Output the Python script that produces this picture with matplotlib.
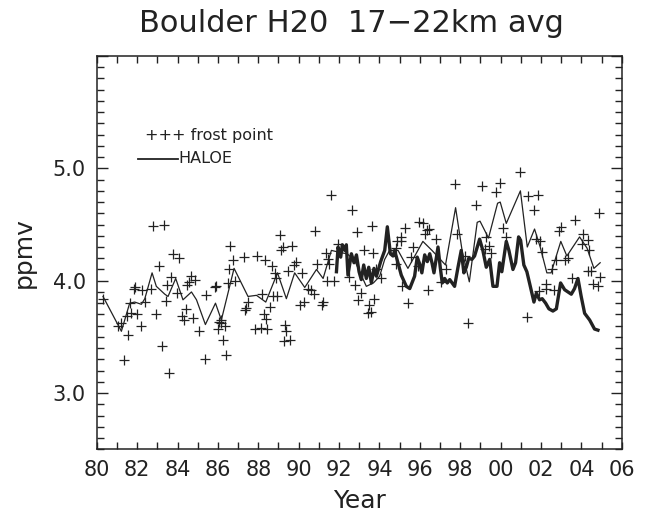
import matplotlib
matplotlib.use("Agg")
import matplotlib.pyplot as plt
from matplotlib.ticker import MultipleLocator, FuncFormatter

# ---- frost point balloon measurements (year since 1900, ppmv) ----
fp_year = [80.31, 81.05, 81.22, 81.35, 81.55, 81.50, 81.63, 81.72, 81.85, 81.88,
           82.00, 82.21, 82.26, 82.41, 82.67, 82.79, 83.33, 82.92, 83.07, 83.23,
           83.45, 83.50, 83.56, 83.70, 83.78, 84.06, 83.95, 84.24, 84.32, 84.44,
           84.49, 84.57, 84.69, 84.89, 84.77, 85.05,
           85.38, 85.43, 85.84, 85.91, 85.98, 86.05, 86.14, 86.17, 86.34, 86.25,
           86.42, 86.50, 86.55, 86.58, 86.75, 86.83, 87.28, 87.33, 87.41, 87.49,
           87.82, 87.94, 88.18, 88.15, 88.32, 88.28, 88.40, 88.42, 88.56, 88.68,
           88.73, 88.95, 88.81, 88.90, 89.06, 89.22, 89.14, 89.67, 89.31, 89.39,
           89.27, 89.59, 89.47, 89.77, 89.89, 90.05,
           90.16, 90.26, 90.46, 90.63, 90.74, 90.79, 90.91, 91.15, 91.22, 91.34,
           91.45, 91.49, 91.42, 91.58, 91.75, 91.95, 92.49, 92.64, 92.81, 92.89,
           92.94, 93.10, 93.23, 93.48, 93.43, 93.60, 93.65, 93.68, 93.73, 93.81,
           94.06, 94.84, 94.89, 94.80,
           95.05, 95.08, 95.28, 95.11, 95.41, 95.54, 95.66, 95.94, 96.15, 96.27,
           96.35, 96.45, 96.40, 95.91, 96.82, 97.03, 97.31, 97.76, 97.86, 98.22,
           98.40, 98.80, 99.07, 99.29, 99.42, 99.54, 99.21, 99.75, 99.99,
           100.98, 101.35, 101.85, 101.63, 100.11, 100.25, 101.32, 101.73, 101.96, 102.06,
           101.90, 102.26, 102.23, 102.64, 102.54, 102.89, 102.97, 102.76, 103.17, 103.33,
           103.55, 103.70, 104.04, 104.10, 104.32, 104.37, 104.32, 104.46, 104.57, 104.82,
           104.87, 104.94]
fp_val = [3.84, 3.60, 3.62, 3.29, 3.52, 3.69, 3.80, 3.71, 3.93, 3.94,
          3.70, 3.60, 3.92, 3.81, 3.93, 4.49, 4.50, 3.70, 4.13, 3.42,
          3.82, 3.96, 3.18, 4.03, 4.24, 4.20, 3.89, 3.69, 3.65, 3.75,
          3.96, 3.99, 4.04, 4.01, 3.67, 3.55,
          3.30, 3.87, 3.94, 3.95, 3.57, 3.63, 3.65, 3.62, 3.60, 3.47,
          3.34, 3.98, 4.10, 4.31, 4.18, 4.00, 4.21, 3.74, 3.76, 3.81,
          3.57, 4.22, 3.88, 3.58, 4.18, 3.70, 3.66, 3.57, 3.77, 4.13,
          3.86, 3.86, 4.07, 4.02, 4.41, 4.30, 4.27, 4.31, 3.61, 3.55,
          3.46, 3.47, 4.09, 4.14, 4.17, 3.78,
          4.07, 3.81, 3.93, 3.92, 3.88, 4.44, 4.15, 3.78, 3.81, 4.25,
          4.19, 4.15, 4.00, 4.76, 4.00, 4.33, 4.03, 4.63, 3.96, 4.43,
          3.83, 3.89, 4.27, 3.78, 3.71, 3.72, 4.49, 4.25, 3.84, 4.10,
          4.02, 4.15, 4.35, 4.29,
          4.35, 4.39, 4.47, 3.95, 3.80, 4.21, 4.30, 4.52, 4.51, 4.42,
          4.45, 4.46, 3.92, 4.13, 4.37, 3.99, 4.10, 4.86, 4.42, 4.22,
          3.62, 4.67, 4.84, 4.39, 4.31, 4.25, 4.28, 4.79, 4.87,
          4.97, 4.75, 4.76, 4.63, 4.47, 4.39, 3.68, 4.37, 4.35, 4.26,
          3.91, 3.97, 3.93, 3.92, 4.10, 4.44, 4.48, 4.18, 4.18, 4.20,
          4.02, 4.54, 4.33, 4.42, 4.36, 4.27, 4.09, 4.09, 3.97, 3.95,
          4.60, 4.03]

# ---- smoothed frost point curve (thin line) ----
fs_year = [80.31, 81.22, 81.63, 81.88, 82.21, 82.38, 82.74, 82.95, 83.37, 83.53,
           83.91, 84.27, 84.69, 84.94, 85.38, 85.88, 86.17, 86.80, 87.49, 87.91,
           88.37, 88.95, 89.39, 89.80, 90.30, 90.88, 91.21, 91.62, 92.08, 92.40,
           92.77, 93.35, 93.70, 94.01, 94.26, 94.50, 94.92, 95.41, 96.15, 96.60,
           97.27, 97.77, 98.10, 98.45, 98.84, 98.98, 99.40, 99.85, 99.98, 100.28,
           100.98, 101.32, 101.68, 101.96, 102.29, 102.50, 102.98, 103.28, 103.91, 104.28,
           104.62, 104.93]
fs_val = [3.86, 3.55, 3.80, 3.81, 3.79, 3.84, 4.07, 3.95, 3.88, 3.86,
          4.02, 3.83, 3.90, 3.83, 3.61, 3.80, 3.65, 4.11, 3.86, 3.87,
          3.81, 4.07, 3.84, 4.07, 3.94, 4.10, 4.02, 4.27, 4.25, 4.24,
          4.18, 3.95, 3.98, 4.04, 4.19, 4.27, 4.27, 4.11, 4.35, 4.27,
          4.14, 4.65, 4.26, 3.99, 4.52, 4.53, 4.38, 4.69, 4.70, 4.51,
          4.80, 4.30, 4.46, 4.30, 4.07, 4.07, 4.35, 4.22, 4.39, 4.29,
          4.11, 4.16]

# ---- HALOE (thick line) ----
ha_year = [91.87, 91.95, 92.08, 92.16, 92.28, 92.36, 92.44, 92.61, 92.74, 92.86,
           92.99, 93.10, 93.22, 93.35, 93.47, 93.60, 93.73, 93.85, 94.06, 94.26,
           94.39, 94.54, 94.67, 94.75, 95.08, 95.33, 95.50, 95.74, 95.87, 95.99,
           96.10, 96.24, 96.37, 96.49, 96.60, 96.70, 96.90, 97.01, 97.11, 97.23,
           97.36, 97.48, 97.72, 97.89, 98.05, 98.18, 98.30, 98.42, 98.58, 98.71,
           98.96, 99.12, 99.29, 99.46, 99.62, 99.82, 99.95, 100.06, 100.28, 100.41,
           100.61, 100.74, 100.89, 100.99, 101.15, 101.30, 101.47, 101.65, 101.77, 101.93,
           102.06, 102.23, 102.39, 102.59, 102.76, 102.97, 103.17, 103.50, 103.66, 103.83,
           103.99, 104.16, 104.41, 104.65, 104.82]
ha_val = [4.08, 4.30, 4.21, 4.32, 4.27, 4.32, 4.05, 4.24, 4.16, 4.23,
          4.08, 4.01, 4.14, 4.02, 4.12, 3.98, 4.11, 4.04, 4.17, 4.27,
          4.48, 4.24, 4.22, 4.27, 4.05, 3.95, 3.93, 4.04, 4.21, 4.15,
          4.07, 4.23, 4.17, 4.24, 4.16, 4.07, 4.30, 4.12, 3.98, 4.02,
          3.98, 4.01, 3.95, 4.12, 4.27, 4.07, 4.12, 4.20, 4.19, 4.22,
          4.37, 4.27, 4.12, 4.19, 3.95, 3.95, 4.16, 4.08, 4.35, 4.27,
          4.10, 4.16, 4.39, 4.36, 4.14, 4.08, 3.95, 3.81, 3.89, 3.83,
          3.84, 3.80, 3.75, 3.73, 3.75, 3.98, 3.92, 3.88, 3.93, 4.02,
          3.86, 3.71, 3.65, 3.57, 3.56]

INK = "#222222"
plt.rcParams["font.family"] = ["DejaVu Sans"]

fig = plt.figure(figsize=(6.45, 5.14), dpi=100)
ax = fig.add_axes([0.150, 0.126, 0.814, 0.765])

ax.plot(fp_year, fp_val, linestyle="none", marker="+", markersize=7,
        markeredgewidth=0.9, color=INK)
ax.plot(fs_year, fs_val, color=INK, linewidth=0.9)
ax.plot(ha_year, ha_val, color=INK, linewidth=2.4)

ax.set_xlim(80, 106)
ax.set_ylim(2.5, 6.0)
ax.xaxis.set_major_locator(MultipleLocator(2))
ax.xaxis.set_minor_locator(MultipleLocator(1))
ax.yaxis.set_major_locator(MultipleLocator(1))
ax.yaxis.set_minor_locator(MultipleLocator(0.1))
ax.xaxis.set_major_formatter(FuncFormatter(lambda v, p: f"{int(round(v)) % 100:02d}"))
ax.yaxis.set_major_formatter(FuncFormatter(lambda v, p: f"{v:.1f}" if 2.9 < v < 5.1 else ""))

ax.tick_params(which="both", direction="in", top=True, right=True, colors=INK,
               labelsize=15, width=1.0)
ax.tick_params(axis="x", which="both", length=5, pad=8)
ax.tick_params(axis="y", which="major", length=8, pad=8)
ax.tick_params(axis="y", which="minor", length=5)
for s in ax.spines.values():
    s.set_linewidth(1.1)
    s.set_color(INK)

ax.set_xlabel("Year", fontsize=18, color=INK, labelpad=6)
ax.set_ylabel("ppmv", fontsize=18, color=INK, labelpad=12)
fig.text(0.545, 0.955, "Boulder H20  17\u221222km avg", ha="center", va="center",
         fontsize=22, color=INK)

# legend drawn as text
ax.text(0.091, 0.797, "+++ frost point", transform=ax.transAxes, fontsize=11.5,
        color=INK, va="center", ha="left")
ax.plot([0.078, 0.154], [0.739, 0.739], transform=ax.transAxes, color=INK, linewidth=1.3)
ax.text(0.155, 0.739, "HALOE", transform=ax.transAxes, fontsize=11.5,
        color=INK, va="center", ha="left")

fig.savefig("out.png", dpi=100)
